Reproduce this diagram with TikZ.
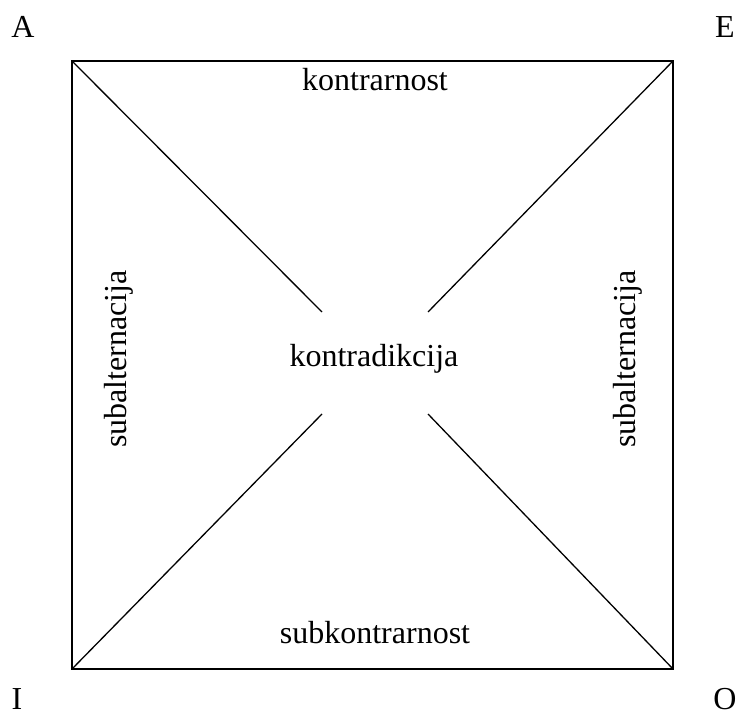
\documentclass[tikz,border=0pt]{standalone}
\usepackage{fontspec}
\setmainfont{Liberation Serif}
\begin{document}
\begin{tikzpicture}[x=1pt,y=1pt,
    lbl/.style={inner sep=0pt,font=\fontsize{32}{38}\selectfont},
    edge/.style={line width=2pt},
    diag/.style={line width=1.3pt}]
        \useasboundingbox (0,0) rectangle (738,717);
        % Corners of the square
        \coordinate (cA) at (72,656);
        \coordinate (cE) at (673,656);
        \coordinate (cI) at (72,48);
        \coordinate (cO) at (673,48);
        % Inner ends of the diagonals
        \coordinate (mA) at (322,405);
        \coordinate (mE) at (428,405);
        \coordinate (mI) at (322,303);
        \coordinate (mO) at (428,303);

        % Draw the square and the diagonals
        \draw[edge] (cA) rectangle (cO);
        \draw[diag] (cA) -- (mA);
        \draw[diag] (cE) -- (mE);
        \draw[diag] (cI) -- (mI);
        \draw[diag] (cO) -- (mO);

        % Corner letters
        \node[lbl] (A) at (23,690) {A};
        \node[lbl] (E) at (725,690) {E};
        \node[lbl] (I) at (17,18) {I};
        \node[lbl] (O) at (725,18) {O};

        % Relation labels
        \node[lbl,anchor=base] (top) at (375,626) {kontrarnost};
        \node[lbl,anchor=base] (mid) at (374,350) {kontradikcija};
        \node[lbl,anchor=base] (bot) at (375,74) {subkontrarnost};
        \node[lbl,anchor=base,rotate=90] (left) at (126,358) {subalternacija};
        \node[lbl,anchor=base,rotate=90] (right) at (635,358) {subalternacija};
    \end{tikzpicture}
\end{document}
